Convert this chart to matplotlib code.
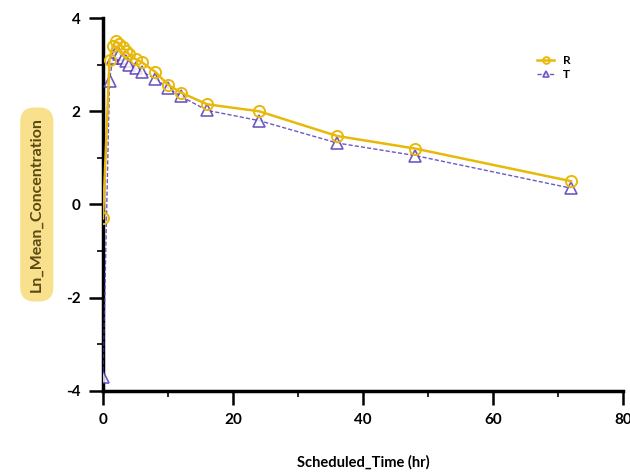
import matplotlib
matplotlib.use('Agg')
import matplotlib.pyplot as plt
from matplotlib.ticker import MultipleLocator

# scheduled sampling times (hr)
time_r = [0, 1, 1.5, 2, 2.5, 3, 3.5, 4, 5, 6, 8, 10, 12, 16, 24, 36, 48, 72]
ln_r = [-0.3, 3.1, 3.4, 3.5, 3.45, 3.38, 3.3, 3.22, 3.12, 3.05, 2.85, 2.57, 2.4, 2.15, 2.0, 1.47, 1.2, 0.5]

time_t = [0, 1, 1.5, 2, 2.5, 3, 3.5, 4, 5, 6, 8, 10, 12, 16, 24, 36, 48, 72]
ln_t = [-3.7, 2.65, 3.15, 3.28, 3.22, 3.15, 3.08, 3.0, 2.92, 2.85, 2.7, 2.5, 2.32, 2.02, 1.8, 1.32, 1.05, 0.35]

gold = '#e8b90a'
purple = '#4b2fb3'

plt.rcParams['font.family'] = ['Lato', 'DejaVu Sans']
plt.rcParams['axes.unicode_minus'] = False

fig = plt.figure(figsize=(6.3, 4.75), dpi=100)
ax = fig.add_axes([0.1635, 0.177, 0.8255, 0.785])

ax.plot(time_t, ln_t, color=purple, lw=1.0, ls=(0, (3, 1.5)), alpha=0.8,
        marker='^', ms=8, mfc='white', mec=purple, mew=1.2, label='T', zorder=3)
ax.plot(time_r, ln_r, color=gold, lw=1.8,
        marker='o', ms=8, mfc='none', mec=gold, mew=1.4, label='R', zorder=4)

ax.set_xlim(0, 80)
ax.set_ylim(-4, 4)
ax.xaxis.set_major_locator(MultipleLocator(20))
ax.xaxis.set_minor_locator(MultipleLocator(10))
ax.yaxis.set_major_locator(MultipleLocator(2))
ax.yaxis.set_minor_locator(MultipleLocator(1))

for s in ['top', 'right']:
    ax.spines[s].set_visible(False)
for s in ['left', 'bottom']:
    ax.spines[s].set_linewidth(2.5)

ax.tick_params(which='major', length=10, width=1.8, labelsize=11, pad=6)
ax.tick_params(which='minor', length=4, width=1.2)
for lab in ax.get_xticklabels() + ax.get_yticklabels():
    lab.set_fontweight('bold')

ax.set_xlabel('Scheduled_Time (hr)', fontsize=10.5, fontweight='bold', labelpad=20)
ax.set_ylabel('Ln_Mean_Concentration', fontsize=11.5, fontweight='bold', color='#5a4a12',
              labelpad=16,
              bbox=dict(boxstyle='round,pad=0.6,rounding_size=0.9', fc='#f8e08c', ec='none'))

handles, labels = ax.get_legend_handles_labels()
ax.legend(handles[::-1], labels[::-1], loc='upper right', bbox_to_anchor=(0.92, 0.93),
          frameon=False, handlelength=1.4, markerscale=0.6, labelspacing=0.3,
          prop={'weight': 'bold', 'size': 8.5})

fig.savefig('out.png', dpi=100)
